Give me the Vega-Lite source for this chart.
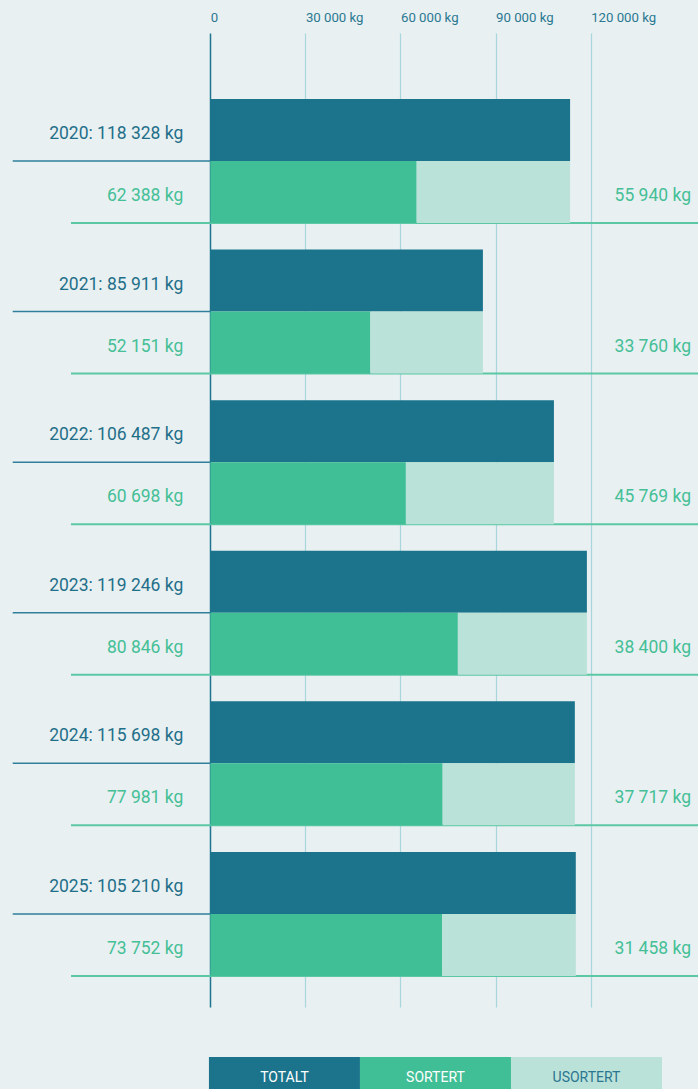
{
  "$schema": "https://vega.github.io/schema/vega-lite/v6.json",
  "width": 698,
  "height": 974,
  "autosize": {"type": "none"},
  "padding": {"top": 33, "left": 0, "right": 0, "bottom": 82},
  "background": "#e8f0f2",
  "config": {"view": {"stroke": null}, "font": "Roboto"},
  "layer": [
    {
      "data": {"values": [
        {"year": 2020, "total": 118328, "sorted": 62388, "unsorted": 55940, "totalBar": 113500, "sortedBar": 65100},
        {"year": 2021, "total": 85911, "sorted": 52151, "unsorted": 33760, "totalBar": 86000, "sortedBar": 50500},
        {"year": 2022, "total": 106487, "sorted": 60698, "unsorted": 45769, "totalBar": 108400, "sortedBar": 61700},
        {"year": 2023, "total": 119246, "sorted": 80846, "unsorted": 38400, "totalBar": 118800, "sortedBar": 78100},
        {"year": 2024, "total": 115698, "sorted": 77981, "unsorted": 37717, "totalBar": 115000, "sortedBar": 73300},
        {"year": 2025, "total": 105210, "sorted": 73752, "unsorted": 31458, "totalBar": 115300, "sortedBar": 73100}
      ]},
      "transform": [
        {"calculate": "datum.year + ': ' + replace(format(datum.total, ','), ',', ' ') + ' kg'", "as": "totalLabel"},
        {"calculate": "replace(format(datum.sorted, ','), ',', ' ') + ' kg'", "as": "sortedLabel"},
        {"calculate": "replace(format(datum.unsorted, ','), ',', ' ') + ' kg'", "as": "unsortedLabel"}
      ],
      "layer": [
        {
          "mark": {"type": "rule", "color": "#2f7f9a", "strokeWidth": 1.5},
          "encoding": {
            "y": {"field": "year", "type": "ordinal", "bandPosition": 0.5, "axis": null,
                  "scale": {"type": "band", "paddingInner": 0.17663, "paddingOuter": 0.32207, "align": 0.68}},
            "x": {"datum": -62330, "type": "quantitative",
                  "scale": {"domain": [-66340, 153850], "nice": false, "zero": false},
                  "axis": {"orient": "top", "values": [0, 30000, 60000, 90000, 120000], "title": null,
                           "domain": false, "ticks": false, "labelAlign": "left", "labelBaseline": "bottom",
                           "labelPadding": 9, "labelFontSize": 13.2, "labelColor": "#2b7891",
                           "labelFont": "Roboto", "labelFlush": false, "labelOverlap": false, "labelBound": false,
                           "labelExpr": "datum.value === 0 ? '0' : replace(format(datum.value, ','), ',', ' ') + ' kg'",
                           "grid": true,
                           "gridColor": {"condition": {"test": "datum.value === 0", "value": "#1f7490"}, "value": "#a8d6dc"},
                           "gridWidth": {"condition": {"test": "datum.value === 0", "value": 1.5}, "value": 1.2},
                           "zindex": 0}},
            "x2": {"datum": 0}
          }
        },
        {
          "mark": {"type": "rule", "color": "#5cc7a3", "strokeWidth": 2},
          "encoding": {
            "y": {"field": "year", "type": "ordinal", "bandPosition": 1,
                  "scale": {"type": "band", "paddingInner": 0.17663, "paddingOuter": 0.32207, "align": 0.68}},
            "x": {"datum": -43940, "type": "quantitative"},
            "x2": {"datum": 153850}
          }
        },
        {
          "mark": {"type": "bar", "color": "#1b748b"},
          "encoding": {
            "y": {"field": "year", "type": "ordinal",
                  "scale": {"type": "band", "paddingInner": 0.17663, "paddingOuter": 0.32207, "align": 0.68}},
            "yOffset": {"datum": "total", "type": "nominal", "scale": {"domain": ["total", "split"], "paddingInner": 0, "paddingOuter": 0}},
            "x": {"field": "totalBar", "type": "quantitative"},
            "x2": {"datum": 0}
          }
        },
        {
          "mark": {"type": "bar", "color": "#40be95"},
          "encoding": {
            "y": {"field": "year", "type": "ordinal",
                  "scale": {"type": "band", "paddingInner": 0.17663, "paddingOuter": 0.32207, "align": 0.68}},
            "yOffset": {"datum": "split", "type": "nominal"},
            "x": {"field": "sortedBar", "type": "quantitative"},
            "x2": {"datum": 0}
          }
        },
        {
          "mark": {"type": "bar", "color": "#bae2d8"},
          "encoding": {
            "y": {"field": "year", "type": "ordinal",
                  "scale": {"type": "band", "paddingInner": 0.17663, "paddingOuter": 0.32207, "align": 0.68}},
            "yOffset": {"datum": "split", "type": "nominal"},
            "x": {"field": "sortedBar", "type": "quantitative"},
            "x2": {"field": "totalBar"}
          }
        },
        {
          "mark": {"type": "text", "align": "right", "baseline": "middle", "dx": -27, "dy": 4, "fontSize": 17.5, "color": "#1f6f89"},
          "encoding": {
            "y": {"field": "year", "type": "ordinal",
                  "scale": {"type": "band", "paddingInner": 0.17663, "paddingOuter": 0.32207, "align": 0.68}},
            "yOffset": {"datum": "total", "type": "nominal"},
            "x": {"datum": 0, "type": "quantitative"},
            "text": {"field": "totalLabel"}
          }
        },
        {
          "mark": {"type": "text", "align": "right", "baseline": "middle", "dx": -27, "dy": 4, "fontSize": 17.5, "color": "#45bf96"},
          "encoding": {
            "y": {"field": "year", "type": "ordinal",
                  "scale": {"type": "band", "paddingInner": 0.17663, "paddingOuter": 0.32207, "align": 0.68}},
            "yOffset": {"datum": "split", "type": "nominal"},
            "x": {"datum": 0, "type": "quantitative"},
            "text": {"field": "sortedLabel"}
          }
        },
        {
          "mark": {"type": "text", "align": "right", "baseline": "middle", "dx": -7, "dy": 4, "fontSize": 17.5, "color": "#45bf96"},
          "encoding": {
            "y": {"field": "year", "type": "ordinal",
                  "scale": {"type": "band", "paddingInner": 0.17663, "paddingOuter": 0.32207, "align": 0.68}},
            "yOffset": {"datum": "split", "type": "nominal"},
            "x": {"value": "width"},
            "text": {"field": "unsortedLabel"}
          }
        }
      ]
    },
    {
      "data": {"values": [
        {"label": "TOTALT"},
        {"label": "SORTERT"},
        {"label": "USORTERT"}
      ]},
      "layer": [
        {
          "mark": {"type": "bar"},
          "encoding": {
            "x": {"field": "label", "type": "nominal", "sort": null, "axis": null,
                  "scale": {"type": "band", "domain": ["TOTALT", "SORTERT", "USORTERT"], "paddingInner": 0, "paddingOuter": 0.811, "align": 0.853}},
            "y": {"datum": "legend", "type": "nominal", "axis": null, "scale": {"type": "band", "domain": ["legend"], "range": [1024, 1064], "paddingInner": 0, "paddingOuter": 0}},
            "color": {"field": "label", "type": "nominal", "legend": null,
                      "scale": {"domain": ["TOTALT", "SORTERT", "USORTERT"], "range": ["#1b748b", "#40be95", "#bae2d8"]}}
          }
        },
        {
          "mark": {"type": "text", "align": "center", "baseline": "middle", "dy": 1, "fontSize": 14},
          "encoding": {
            "x": {"field": "label", "type": "nominal", "sort": null},
            "y": {"datum": "legend", "type": "nominal"},
            "text": {"field": "label"},
            "color": {"condition": {"test": "datum.label === 'USORTERT'", "value": "#2a7590"}, "value": "#ffffff"}
          }
        }
      ]
    }
  ],
  "resolve": {"scale": {"x": "independent", "y": "independent", "color": "independent"}, "axis": {"x": "independent", "y": "independent"}}
}
